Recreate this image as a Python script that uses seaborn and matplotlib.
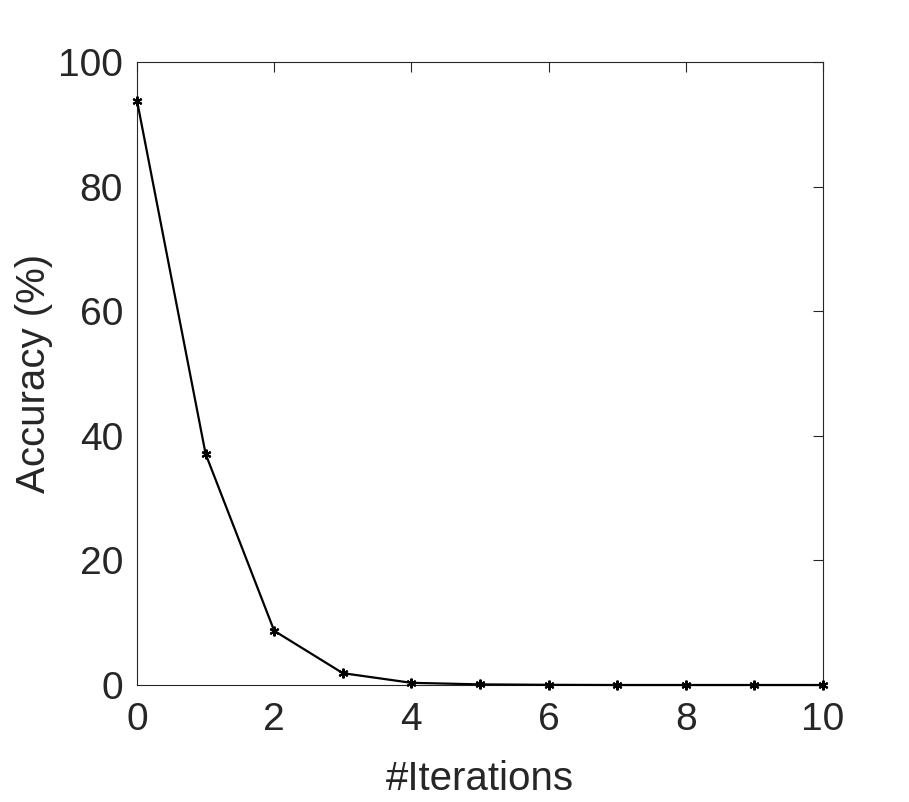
import numpy as np
import pandas as pd
import matplotlib
matplotlib.use('Agg')
import matplotlib.pyplot as plt
import seaborn as sns

# data
iterations = [0, 1, 2, 3, 4, 5, 6, 7, 8, 9, 10]
accuracy = [93.8, 37.1, 8.7, 1.9, 0.35, 0.1, 0.03, 0.0, 0.0, 0.0, 0.0]

df = pd.DataFrame({'iter': iterations, 'acc': accuracy})

sns.set_style('white')
plt.rcParams['font.family'] = ['Liberation Sans', 'DejaVu Sans']
txt = '#262626'

fig = plt.figure(figsize=(9.09, 8.02), dpi=100)
ax = fig.add_axes([137 / 909, 1 - 685 / 802, (823 - 137) / 909, (685 - 62) / 802])

# MATLAB-style asterisk marker
sns.lineplot(data=df, x='iter', y='acc', ax=ax, color='black', linewidth=1.6,
             marker=(6, 2, 0), markersize=7, markeredgewidth=1.5,
             markeredgecolor='black', clip_on=False, zorder=3)

ax.set_xlim(0, 10)
ax.set_ylim(0, 100)
ax.set_xticks(range(0, 11, 2))
ax.set_yticks(range(0, 101, 20))
ax.set_xlabel('#Iterations', fontsize=29, color=txt, labelpad=16)
ax.set_ylabel('Accuracy (%)', fontsize=29, color=txt, labelpad=4)
ax.tick_params(direction='in', length=7, width=0.8, colors=txt, labelsize=28,
               top=True, right=True, pad=10)
ax.tick_params(axis='x', pad=12)
for s in ax.spines.values():
    s.set_color(txt)
    s.set_linewidth(0.8)

plt.savefig('out.png', dpi=100)
